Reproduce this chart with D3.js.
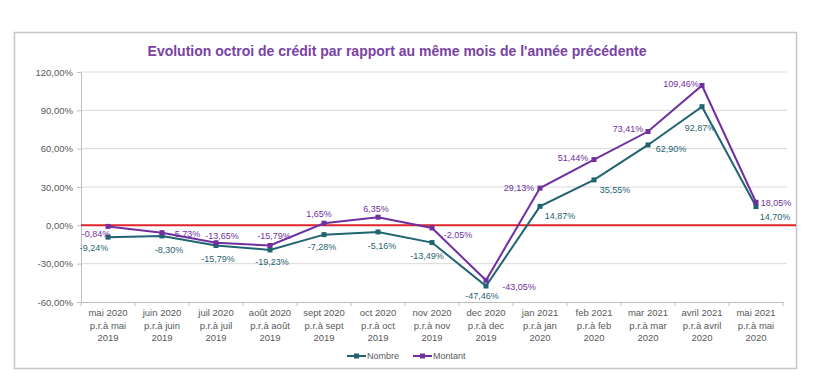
<!DOCTYPE html>
<html><head><meta charset="utf-8">
<script src="https://cdn.jsdelivr.net/npm/d3@7"></script>
<style>body{margin:0;background:#fff;font-family:"Liberation Sans",Arial,sans-serif;}</style>
</head><body>
<svg id="c" width="814" height="379"></svg>
<script>
const categories = [
  ["mai 2020","p.r.à mai","2019"],["juin 2020","p.r.à juin","2019"],["juil 2020","p.r.à juil","2019"],
  ["août 2020","p.r.à août","2019"],["sept 2020","p.r.à sept","2019"],["oct 2020","p.r.à oct","2019"],
  ["nov 2020","p.r.à nov","2019"],["dec 2020","p.r.à dec","2019"],["jan 2021","p.r.à jan","2020"],
  ["feb 2021","p.r.à feb","2020"],["mar 2021","p.r.à mar","2020"],["avril 2021","p.r.à avril","2020"],
  ["mai 2021","p.r.à mai","2020"]
];
const nombre  = [-9.24,-8.30,-15.79,-19.23,-7.28,-5.16,-13.49,-47.46,14.87,35.55,62.90,92.87,14.70];
const montant = [-0.84,-5.73,-13.65,-15.79,1.65,6.35,-2.05,-43.05,29.13,51.44,73.41,109.46,18.05];
const yTicks  = [-60,-30,0,30,60,90,120];
const seriesNames = ["Nombre","Montant"];
// label placement (offset of label centre from point, px)
const nombreLabelOffset  = [[-14,11],[7,14],[2,13],[2,12],[-2,12],[4,14],[-5,13],[-4,10],[20,9],[21,10],[23,4],[-2,21],[19,10]];
const montantLabelOffset = [[-12,7],[24,1],[6,-7],[4,-10],[-5,-10],[-2,-9],[26,7],[33,6],[-21,0],[-21,-2],[-20,-3],[-21,-2],[20,0]];

const colN = "#1f6470", colM = "#7030a0";
const svg = d3.select("#c");
const fmt = v => v.toFixed(2).replace(".", ",") + "%";

svg.append("rect").attr("x",14.5).attr("y",32.5).attr("width",782).attr("height",336)
  .attr("fill","#fff").attr("stroke","#c6c6c6").attr("stroke-width",1.5);

svg.append("text").attr("x",397).attr("y",56).attr("text-anchor","middle")
  .attr("font-size",14).attr("font-weight","bold").attr("fill","#7a42a3")
  .text("Evolution octroi de crédit par rapport au même mois de l'année précédente");

const x = d3.scaleBand().domain(d3.range(categories.length)).range([81, 783]);
const y = d3.scaleLinear().domain([-60,120]).range([302, 72]);
const cx = i => x(i) + x.bandwidth()/2;

// gridlines
svg.append("g").selectAll("line").data(yTicks.filter(t=>t!==-60)).join("line")
  .attr("x1",81).attr("x2",787).attr("y1",d=>y(d)).attr("y2",d=>y(d))
  .attr("stroke","#d9d9d9").attr("stroke-width",1);

// y axis
const ya = svg.append("g").attr("transform","translate(81,0)")
  .call(d3.axisLeft(y).tickValues(yTicks).tickSize(4).tickPadding(4).tickFormat(fmt));
ya.select(".domain").attr("stroke","#bfbfbf");
ya.selectAll(".tick line").attr("stroke","#bfbfbf");
ya.selectAll("text").attr("font-size",9.5).attr("fill","#595959").attr("font-family","Liberation Sans, Arial, sans-serif");

// x axis
const xa = svg.append("g").attr("transform",`translate(0,${y(-60)})`)
  .call(d3.axisBottom(x).tickSize(0).tickFormat(""));
xa.select(".domain").attr("stroke","#bfbfbf");
svg.append("g").selectAll("line").data(d3.range(categories.length+1)).join("line")
  .attr("x1",i=>81+i*x.bandwidth()).attr("x2",i=>81+i*x.bandwidth())
  .attr("y1",y(-60)).attr("y2",y(-60)+4).attr("stroke","#bfbfbf");
const xl = svg.append("g").selectAll("text").data(categories).join("text")
  .attr("text-anchor","middle").attr("font-size",9.5).attr("fill","#595959");
xl.each(function(d,i){
  const t = d3.select(this);
  d.forEach((s,k)=>t.append("tspan").attr("x",cx(i)).attr("y",316+k*12.5).text(s));
});

// zero line
svg.append("line").attr("x1",81).attr("x2",796).attr("y1",y(0)).attr("y2",y(0))
  .attr("stroke","#e0262a").attr("stroke-width",2);

const line = d3.line().x((d,i)=>cx(i)).y(d=>y(d));
function drawSeries(vals, col, offs){
  svg.append("path").datum(vals).attr("d",line).attr("fill","none")
    .attr("stroke",col).attr("stroke-width",2);
  svg.append("g").selectAll("rect").data(vals).join("rect")
    .attr("x",(d,i)=>cx(i)-2.5).attr("y",d=>y(d)-2.5).attr("width",5).attr("height",5)
    .attr("fill",col);
  svg.append("g").selectAll("text").data(vals).join("text")
    .attr("x",(d,i)=>cx(i)+offs[i][0]).attr("y",(d,i)=>y(d)+offs[i][1]+3.3)
    .attr("text-anchor","middle").attr("font-size",9).attr("fill",col)
    .text(fmt);
}
drawSeries(nombre, colN, nombreLabelOffset);
drawSeries(montant, colM, montantLabelOffset);

// legend
const leg = [[347,colN,seriesNames[0]],[413,colM,seriesNames[1]]];
leg.forEach(([lx,col,name])=>{
  svg.append("line").attr("x1",lx).attr("x2",lx+19).attr("y1",356).attr("y2",356).attr("stroke",col).attr("stroke-width",2);
  svg.append("rect").attr("x",lx+7).attr("y",353.5).attr("width",5).attr("height",5).attr("fill",col);
  svg.append("text").attr("x",lx+20).attr("y",359).attr("font-size",9).attr("fill","#595959").text(name);
});
</script>
</body></html>
